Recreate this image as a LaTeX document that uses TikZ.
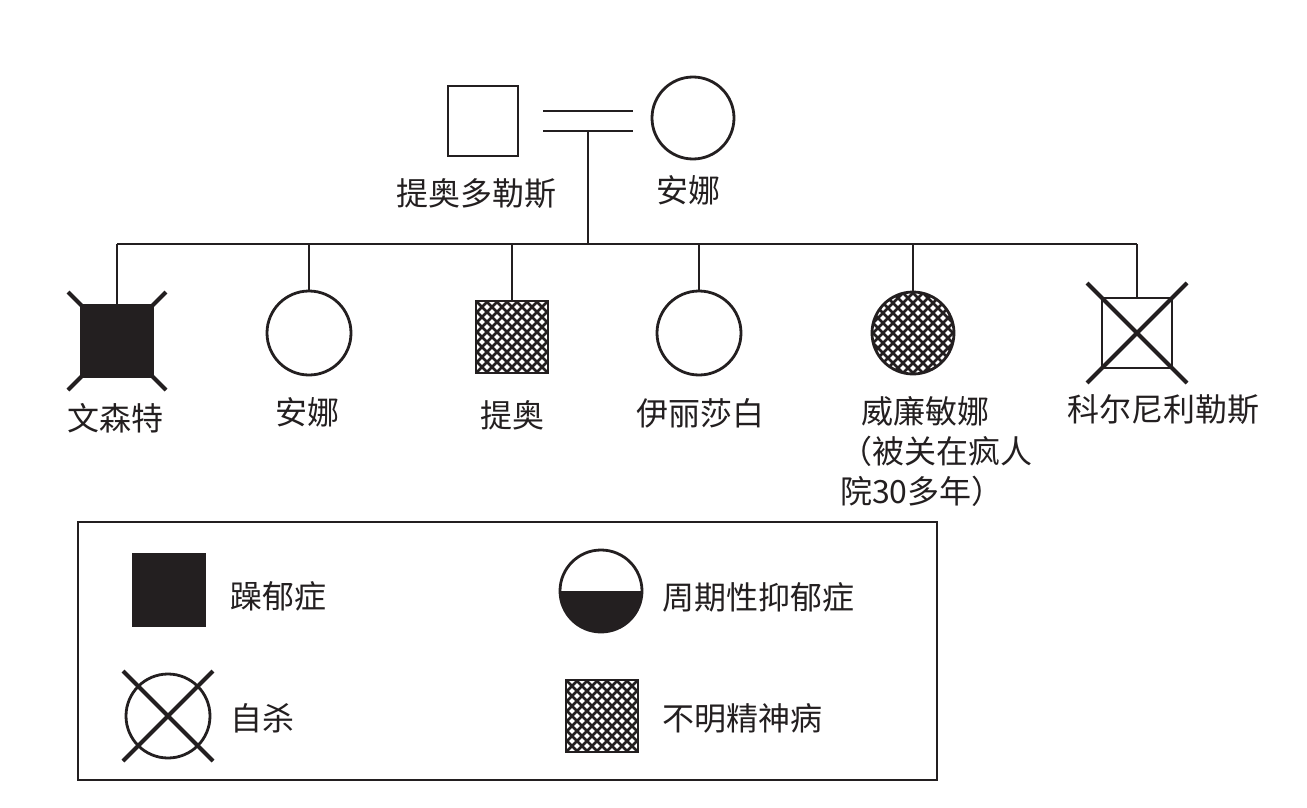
\documentclass[tikz,border=0pt]{standalone}
\usepackage{fontspec}
\newfontfamily\cjkfont{Noto Sans CJK SC}
\definecolor{ink}{HTML}{231F20}
\tikzset{
  base/.style={draw=ink, line width=2.8pt, inner sep=0pt, outer sep=0pt},
  sq/.style={base, rectangle, minimum size=#1},
  circ/.style={base, circle, minimum size=#1},
  conn/.style={draw=ink, line width=2.8pt},
  xline/.style={draw=ink, line width=4pt},
  lbl/.style={font=\cjkfont\fontsize{32}{40}\selectfont, text=ink, inner sep=0pt},
  hatch/.style={path picture={
    \foreach \i in {-12,...,12}{
      \draw[draw=ink, line width=2.7pt] ([shift={(\i*10-63,-63)}]path picture bounding box.center) -- ++(126,126);
      \draw[draw=ink, line width=2.7pt] ([shift={(\i*10-63,63)}]path picture bounding box.center) -- ++(126,-126);
    }}},
  halffill/.style={path picture={
    \fill[ink] (path picture bounding box.west) rectangle (path picture bounding box.south east);}}
}
\begin{document}
\begin{tikzpicture}[x=1pt,y=-1pt]
\useasboundingbox (0,0) rectangle (1307,808);
% parents
\node[sq=70] (f) at (483,121) {};
\node[circ=82] (m) at (693,118) {};
\node[lbl] (fl) at (476,194) {提奥多勒斯};
\node[lbl] (ml) at (688,190) {安娜};
\coordinate (d1a) at (543,111);
\coordinate (d1b) at (633,111);
\coordinate (d2a) at (543,131);
\coordinate (d2b) at (633,131);
\coordinate (mc) at (588,131);
\coordinate (sb) at (588,244);
\draw[conn] (d1a) -- (d1b);
\draw[conn] (d2a) -- (d2b);
\draw[conn] (mc) -- (sb);
% children
\node[sq=72, fill=ink] (c1) at (117,341) {};
\node[circ=84] (c2) at (309,333) {};
\node[sq=72, hatch] (c3) at (512,337) {};
\node[circ=84] (c4) at (699,333) {};
\node[circ=82, hatch] (c5) at (913,333) {};
\node[sq=70] (c6) at (1137,333) {};
\draw[xline] ([shift={(-49,-49)}]c1.center) -- ([shift={(49,49)}]c1.center);
\draw[xline] ([shift={(-49,49)}]c1.center) -- ([shift={(49,-49)}]c1.center);
\draw[xline] ([shift={(-50,-50)}]c6.center) -- ([shift={(50,50)}]c6.center);
\draw[xline] ([shift={(-50,50)}]c6.center) -- ([shift={(50,-50)}]c6.center);
\draw[conn] (c1 |- sb) -- (c6 |- sb);
\foreach \c in {c1,c2,c3,c4,c5,c6}{\draw[conn] (\c.north) -- (\c |- sb);}
\node[lbl] (l1) at (115,418) {文森特};
\node[lbl] (l2) at (307,412) {安娜};
\node[lbl] (l3) at (512,415) {提奥};
\node[lbl] (l4) at (700,413) {伊丽莎白};
\node[lbl, anchor=north west, align=left] (l5) at (840,396) {\hspace*{0.65em}威廉敏娜\\（被关在疯人\\院30多年）};
\node[lbl] (l6) at (1163,410) {科尔尼利勒斯};
% legend
\node[base, rectangle, minimum width=859, minimum height=258] (leg) at (507.5,651) {};
\node[sq=72, fill=ink] (k1) at (169,590) {};
\node[lbl, anchor=west] (k1l) at (230,596) {躁郁症};
\node[circ=82, halffill] (k2) at (601,591) {};
\node[lbl, anchor=west] (k2l) at (662,597) {周期性抑郁症};
\node[circ=84] (k3) at (168,716) {};
\draw[xline] ([shift={(-45,-45)}]k3.center) -- ([shift={(45,45)}]k3.center);
\draw[xline] ([shift={(-45,45)}]k3.center) -- ([shift={(45,-45)}]k3.center);
\node[lbl, anchor=west] (k3l) at (230,718) {自杀};
\node[sq=72, hatch] (k4) at (602,716) {};
\node[lbl, anchor=west] (k4l) at (662,718) {不明精神病};
\end{tikzpicture}
\end{document}
